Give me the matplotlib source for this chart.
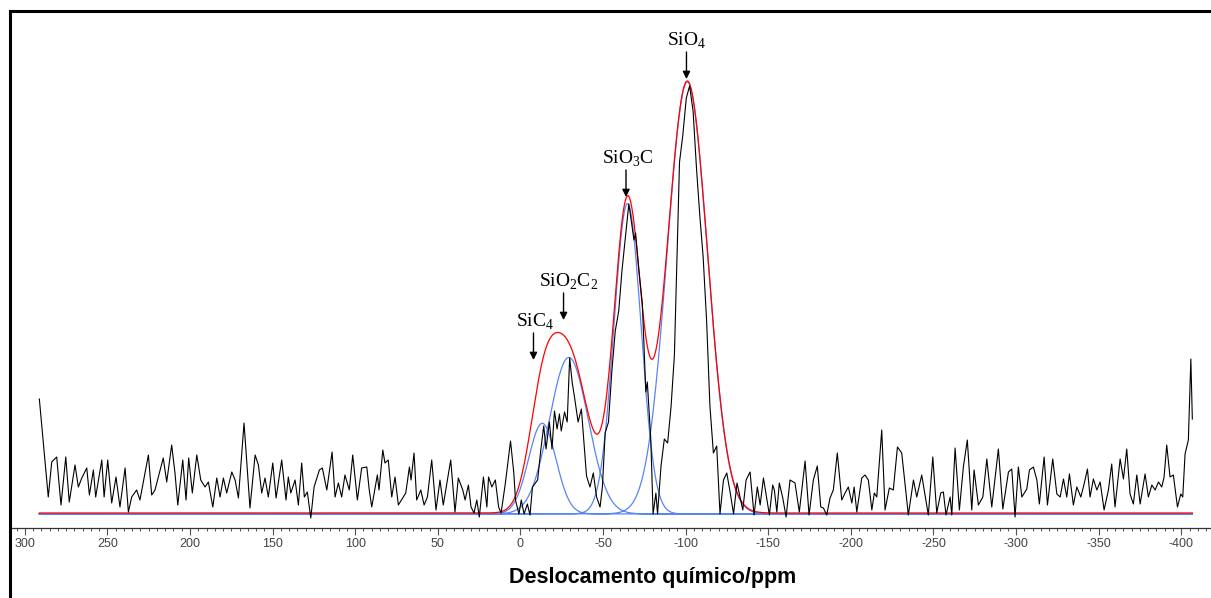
"""
29Si NMR spectrum with Gaussian deconvolution (SiC4, SiO2C2, SiO3C, SiO4)
"""
import numpy as np
import matplotlib
matplotlib.use("Agg")
import matplotlib.pyplot as plt
import matplotlib.transforms as mtransforms
from matplotlib.lines import Line2D
from matplotlib.ticker import MultipleLocator

plt.rcParams["font.family"] = ["Liberation Sans", "DejaVu Sans"]
plt.rcParams["axes.unicode_minus"] = False
plt.rcParams["mathtext.fontset"] = "custom"
plt.rcParams["mathtext.rm"] = "Liberation Serif"

# measured spectrum (ppm, intensity in arbitrary units)
spec_ppm = [
    291.2, 288.8, 285.8, 283.7, 280.7, 278.1, 275.2, 273.1, 269.6, 267.6,
    265.5, 262.5, 260.9, 258.5, 257.1, 253.4, 252.0, 249.8, 247.4, 244.8,
    242.4, 239.3, 237.3, 235.3, 232.3, 230.3, 225.2, 223.2, 221.2, 216.2,
    214.1, 211.1, 209.1, 207.4, 204.4, 202.4, 200.8, 198.6, 195.9, 193.5,
    190.9, 188.9, 186.2, 183.8, 181.8, 179.8, 177.8, 174.7, 172.7, 170.7,
    167.3, 163.7, 160.6, 158.6, 156.6, 154.6, 152.6, 149.9, 147.9, 144.5,
    141.9, 140.5, 139.0, 136.4, 134.4, 132.4, 130.8, 129.0, 126.9, 124.9,
    121.7, 119.9, 117.2, 114.0, 112.2, 110.2, 108.2, 106.2, 103.6, 101.5,
    98.7, 96.1, 93.0, 91.5, 90.0, 86.6, 85.6, 83.3, 82.0, 80.0,
    77.9, 75.9, 73.9, 70.9, 69.4, 67.2, 66.2, 64.4, 62.8, 60.3,
    58.3, 56.3, 53.7, 51.1, 48.7, 46.7, 42.2, 39.6, 37.6, 34.9,
    33.5, 31.5, 29.9, 28.1, 26.4, 24.9, 22.4, 20.3, 19.3, 17.3,
    15.2, 13.2, 11.7, 9.1, 6.0, 4.0, 3.0, 0.9, -0.5, -2.2,
    -4.2, -5.8, -7.3, -10.4, -12.4, -14.1, -15.5, -17.5, -19.1, -20.6,
    -22.2, -23.6, -24.7, -26.7, -28.3, -29.8, -31.3, -32.9, -34.9, -36.9,
    -38.0, -40.0, -42.1, -44.1, -46.1, -48.2, -49.6, -51.3, -53.3, -55.3,
    -57.4, -59.5, -61.5, -65.6, -67.3, -68.7, -69.7, -71.7, -73.8, -75.9,
    -76.8, -78.9, -80.3, -82.0, -83.0, -85.1, -87.1, -89.1, -91.2, -93.2,
    -94.3, -96.3, -98.3, -100.4, -102.4, -104.5, -106.6, -108.6, -110.6, -112.7,
    -114.7, -116.8, -118.8, -120.8, -122.9, -124.9, -127.0, -129.0, -131.1, -134.6,
    -136.6, -139.0, -141.4, -143.4, -145.1, -147.1, -150.7, -152.7, -153.7, -155.2,
    -156.7, -158.8, -160.8, -163.2, -166.2, -168.8, -172.3, -174.7, -177.3, -179.7,
    -181.8, -183.4, -185.4, -187.4, -189.4, -191.8, -194.5, -196.5, -198.5, -200.6,
    -202.0, -203.6, -206.6, -208.6, -210.6, -212.7, -214.2, -215.7, -218.7, -220.7,
    -223.3, -225.7, -228.2, -230.8, -234.8, -237.9, -239.9, -242.9, -246.9, -249.6,
    -252.0, -254.4, -256.0, -257.6, -260.1, -261.1, -263.1, -265.7, -268.1, -270.5,
    -273.2, -274.6, -277.2, -279.9, -282.3, -285.3, -289.3, -292.0, -295.4, -297.4,
    -299.4, -301.4, -303.5, -306.5, -308.1, -310.5, -312.6, -314.1, -317.0, -319.0,
    -322.2, -324.7, -326.7, -328.7, -330.7, -332.3, -334.7, -336.8, -339.2, -341.2,
    -343.2, -344.8, -346.8, -348.9, -350.9, -353.3, -355.9, -357.9, -359.9, -363.0,
    -365.0, -367.0, -369.0, -371.0, -373.1, -375.1, -378.1, -380.1, -382.2, -384.2,
    -386.2, -388.2, -389.6, -391.2, -393.2, -395.2, -397.7, -399.7, -400.9, -402.3,
    -404.3, -405.8, -406.7,
]
spec_int = [
    114, 70, 16, 51, 56, 8, 56, 11, 48, 26,
    35, 45, 18, 43, 16, 53, 16, 53, 10, 36,
    6, 45, 1, 16, 23, 13, 58, 18, 23, 55,
    31, 68, 40, 8, 53, 13, 55, 20, 58, 33,
    26, 31, 6, 35, 16, 35, 20, 41, 33, 15,
    90, 5, 58, 48, 20, 35, 16, 50, 15, 53,
    13, 36, 20, 33, 8, 50, 16, 21, -5, 26,
    43, 45, 23, 61, 16, 30, 16, 38, 23, 58,
    13, 45, 46, 23, 6, 38, 23, 63, 50, 53,
    16, 36, 8, 16, 20, 46, 33, 60, 13, 23,
    8, 16, 53, 3, 33, 8, 53, 1, 35, 23,
    13, 28, 6, 0, 13, -4, 36, 6, 36, 26,
    33, 6, 0, 30, 72, 40, 13, -1, 13, -1,
    9, -2, 26, 33, 64, 87, 64, 91, 64, 102,
    84, 99, 82, 101, 91, 155, 131, 114, 91, 104,
    80, 37, 26, 40, 16, 6, 26, 80, 91, 141,
    182, 202, 243, 309, 290, 273, 280, 243, 209, 121,
    131, 74, -1, 20, -1, 47, 74, 70, 107, 158,
    226, 351, 378, 415, 427, 402, 344, 297, 256, 192,
    107, 60, 67, -1, 33, 40, 20, -1, 30, 3,
    33, 41, -2, 26, 8, 35, -2, 28, 23, 1,
    30, 15, -4, 33, 30, 1, 52, -2, 33, 47,
    6, 5, -2, 15, 23, 60, 13, 20, 26, 10,
    26, 1, 35, 38, 33, 3, 20, 16, 83, 3,
    25, 23, 66, 60, -2, 33, 16, 38, -2, 56,
    0, 20, 21, -2, 16, -2, 65, 3, 46, 73,
    3, 43, 8, 16, 54, 6, 64, 4, 41, 44,
    -4, 46, 16, 24, 43, 46, 33, 9, 56, 8,
    54, 19, 16, 34, 16, 39, 8, 26, 16, 29,
    44, 16, 34, 23, 31, 3, 23, 49, 6, 54,
    34, 64, 19, 9, 38, 9, 39, 16, 28, 23,
    31, 26, 36, 68, 36, 38, 6, 19, 16, 59,
    73, 154, 94,
]

# Gaussian components of the fit
peak_names = ["SiC$_\\mathrm{4}$", "SiO$_\\mathrm{2}$C$_\\mathrm{2}$",
              "SiO$_\\mathrm{3}$C", "SiO$_\\mathrm{4}$"]
peak_center = [-13.2, -29.3, -64.8, -101.0]
peak_sigma = [8.3, 11.7, 8.2, 12.2]
peak_height = [90.6, 156.5, 310.4, 432.0]

# label arrows: ppm position and intensity at the arrow tip
arrow_ppm = [-7.9, -26.1, -63.9, -100.5]
arrow_tip = [153, 193, 316, 434]
text_ppm = [-8.8, -29.4, -65.1, -100.5]

W, H = 1211, 598
fig = plt.figure(figsize=(W / 100, H / 100), dpi=100)
ax = fig.add_axes([10 / W, (H - 528) / H, 1 - 10 / W, (528 - 11) / H])

grid = np.linspace(spec_ppm[0], spec_ppm[-1], 2000)
comps = [h * np.exp(-0.5 * ((grid - c) / s) ** 2)
         for c, s, h in zip(peak_center, peak_sigma, peak_height)]
fit = np.sum(comps, axis=0)

# components in one path so overlaps at the baseline do not stack;
# nudged a pixel down so the red fit above it mixes to purple
nudge = mtransforms.ScaledTranslation(0, -0.9 / 100, fig.dpi_scale_trans)
cx = np.concatenate([np.append(grid, np.nan) for _ in comps])
cy = np.concatenate([np.append(c, np.nan) for c in comps])
ax.plot(cx, cy, color="#3d6ef5", lw=0.9, alpha=0.85, zorder=2,
        transform=ax.transData + nudge)
ax.plot(grid, fit, color="#ff0000", lw=0.9, zorder=3)
ax.plot(spec_ppm, spec_int, color="black", lw=0.8, zorder=4)

for name, ap, tip, tp in zip(peak_names, arrow_ppm, arrow_tip, text_ppm):
    ax.annotate("", xy=(ap, tip), xytext=(ap, tip + 27),
                arrowprops=dict(arrowstyle="-|>", color="black", lw=1.0,
                                mutation_scale=11, shrinkA=0, shrinkB=0))
    ax.text(tp, tip + 33, name, ha="center", va="baseline",
            fontsize=14, family="Liberation Serif")

ax.set_xlim(308.96, -418.0)
ax.set_ylim(-15, 502)
for side in ("left", "top", "right"):
    ax.spines[side].set_visible(False)
ax.spines["bottom"].set_color("#333333")
ax.spines["bottom"].set_linewidth(0.9)
ax.set_yticks([])
ax.xaxis.set_major_locator(MultipleLocator(50))
ax.xaxis.set_minor_locator(MultipleLocator(5))
ax.tick_params(axis="x", which="major", direction="out", length=5, width=0.8,
               color="#555555", labelsize=9, labelcolor="#444444", pad=2)
ax.tick_params(axis="x", which="minor", direction="out", length=2.5,
               width=0.7, color="#555555")

fig.text(653 / W, 1 - 577 / H, "Deslocamento químico/ppm", ha="center",
         va="center", fontsize=15.5, fontweight="bold")

# frame of the original figure (top and left edges)
fig.add_artist(Line2D([9.5 / W, 1], [1 - 10.8 / H] * 2, lw=2.2, color="black",
                      solid_capstyle="projecting", transform=fig.transFigure))
fig.add_artist(Line2D([9.5 / W] * 2, [0, 1 - 10.8 / H], lw=2.2, color="black",
                      solid_capstyle="projecting", transform=fig.transFigure))

fig.savefig("out.png", dpi=100)
